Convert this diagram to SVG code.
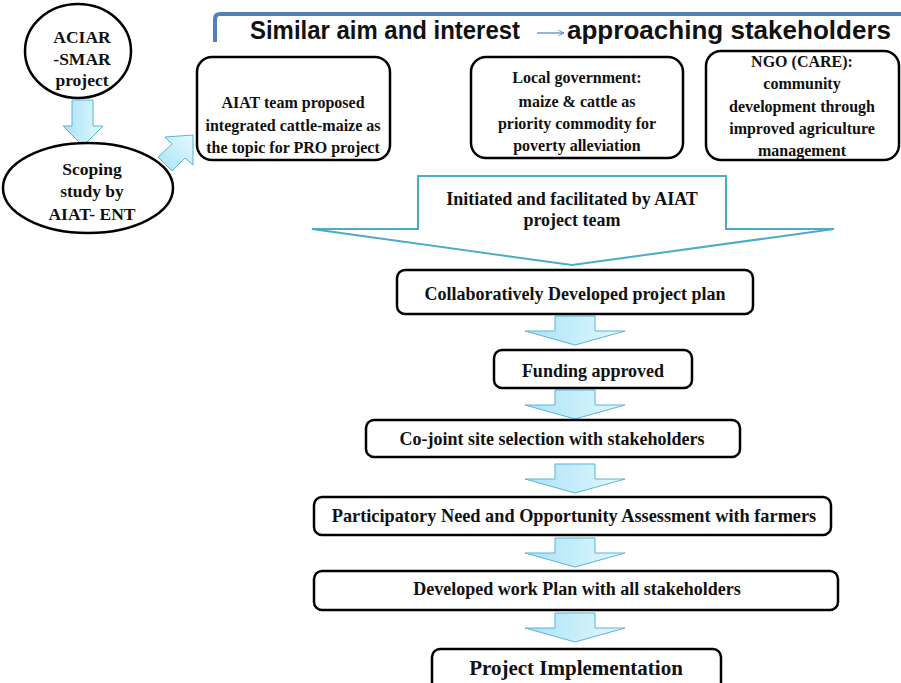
<svg xmlns="http://www.w3.org/2000/svg" width="901" height="683" viewBox="0 0 901 683">
  <style>
    .bx { fill: #ffffff; stroke: #000000; stroke-width: 2.5; }
    .el { fill: #ffffff; stroke: #000000; stroke-width: 2.5; }
    .t { font-family: "Liberation Serif", "Times New Roman", serif; font-weight: bold; fill: #111111; text-anchor: middle; }
    .t16 { font-size: 16px; }
    .t17 { font-size: 17.5px; }
    .t18 { font-size: 18px; }
    .t21 { font-size: 21px; }
    .ban { font-family: "Liberation Sans", Arial, sans-serif; font-weight: bold; font-size: 25px; fill: #111111; }
    .blk { fill: url(#blueFill); stroke: #5ab4d6; stroke-width: 1; }
  </style>
  <defs>
    <linearGradient id="blueFill" x1="0" y1="0" x2="1" y2="0">
      <stop offset="0" stop-color="#a9e2f7"/>
      <stop offset="1" stop-color="#e4f8fe"/>
    </linearGradient>
    <linearGradient id="blueFillD" x1="0" y1="1" x2="1" y2="0">
      <stop offset="0" stop-color="#a9e2f7"/>
      <stop offset="1" stop-color="#e4f8fe"/>
    </linearGradient>
    <path id="stepArrow" d="M-20,0 H20 V15 H50 L0,29 L-50,15 H-20 Z"/>
    <marker id="thinHead" viewBox="0 0 10 10" refX="9" refY="5" markerWidth="7" markerHeight="7" orient="auto" markerUnits="userSpaceOnUse">
      <path d="M1,1 L9,5 L1,9" fill="none" stroke="#4f81bd" stroke-width="1.2"/>
    </marker>
  </defs>

  <!-- banner -->
  <g id="banner">
    <path d="M215,42 V19 Q215,14 220,14 H901" fill="none" stroke="#4f81bd" stroke-width="4"/>
    <text class="ban" x="250" y="39" textLength="270" lengthAdjust="spacingAndGlyphs">Similar aim and interest</text>
    <line x1="537" y1="33" x2="564" y2="33" stroke="#4f81bd" stroke-width="1.2" marker-end="url(#thinHead)"/>
    <text class="ban" x="567" y="39" textLength="324" lengthAdjust="spacingAndGlyphs">approaching stakeholders</text>
  </g>

  <!-- connectors -->
  <g id="connectors">
    <path class="blk" d="M72,100 H93 V126 H103 L83,146 L63,126 H72 Z"/>
    <path class="blk" style="fill:url(#blueFillD)" d="M193,135 L193,165 L185,158 L172,171 L158,157 L172,144 L165,137 Z"/>
    <path id="bigArrow" d="M418,176 H726 V229 H834 L572,265 L312,229 H418 Z" fill="#ffffff" stroke="#4bacc6" stroke-width="2"/>
    <use href="#stepArrow" class="blk" x="575" y="316"/>
    <use href="#stepArrow" class="blk" x="575" y="390"/>
    <use href="#stepArrow" class="blk" x="575" y="464"/>
    <use href="#stepArrow" class="blk" x="575" y="538"/>
    <use href="#stepArrow" class="blk" x="575" y="613"/>
  </g>

  <g id="aciar">
    <ellipse class="el" cx="78" cy="51" rx="53" ry="47"/>
    <text class="t t17" x="82" y="43">ACIAR</text>
    <text class="t t17" x="82" y="65">-SMAR</text>
    <text class="t t17" x="82" y="86">project</text>
  </g>

  <g id="scoping">
    <ellipse class="el" cx="88" cy="188" rx="85" ry="45"/>
    <text class="t t17" x="92" y="175">Scoping</text>
    <text class="t t17" x="92" y="197">study by</text>
    <text class="t t17" x="92" y="220">AIAT- ENT</text>
  </g>

  <g id="aiat-team">
    <rect class="bx" x="197" y="57" width="193" height="103" rx="15"/>
    <text class="t t16" x="293" y="108">AIAT team proposed</text>
    <text class="t t16" x="293" y="131">integrated cattle-maize as</text>
    <text class="t t16" x="293" y="153">the topic for PRO project</text>
  </g>

  <g id="local-gov">
    <rect class="bx" x="471" y="57" width="212" height="101" rx="15"/>
    <text class="t t16" x="577" y="83">Local government:</text>
    <text class="t t16" x="577" y="107">maize &amp; cattle as</text>
    <text class="t t16" x="577" y="129">priority commodity for</text>
    <text class="t t16" x="577" y="151">poverty alleviation</text>
  </g>

  <g id="ngo">
    <rect class="bx" x="706" y="51" width="193" height="109" rx="15"/>
    <text class="t t16" x="802" y="67">NGO (CARE):</text>
    <text class="t t16" x="802" y="89">community</text>
    <text class="t t16" x="802" y="112">development through</text>
    <text class="t t16" x="802" y="134">improved agriculture</text>
    <text class="t t16" x="802" y="156">management</text>
  </g>

  <g id="initiated">
    <text class="t t18" x="572" y="205">Initiated and facilitated by AIAT</text>
    <text class="t t18" x="572" y="226">project team</text>
  </g>

  <g id="plan">
    <rect class="bx" x="397" y="270" width="356" height="44" rx="8"/>
    <text class="t t18" x="575" y="300">Collaboratively Developed project plan</text>
  </g>

  <g id="funding">
    <rect class="bx" x="494" y="350" width="198" height="38" rx="8"/>
    <text class="t t18" x="593" y="377">Funding approved</text>
  </g>

  <g id="site">
    <rect class="bx" x="366" y="420" width="374" height="37" rx="8"/>
    <text class="t t18" x="552" y="445">Co-joint site selection with stakeholders</text>
  </g>

  <g id="assessment">
    <rect class="bx" x="314" y="497" width="517" height="38" rx="8"/>
    <text class="t" style="font-size:18.3px" x="574" y="522">Participatory Need and Opportunity Assessment with farmers</text>
  </g>

  <g id="workplan">
    <rect class="bx" x="314" y="571" width="524" height="39" rx="8"/>
    <text class="t t18" x="577" y="595">Developed work Plan with all stakeholders</text>
  </g>

  <g id="implementation">
    <rect class="bx" x="432" y="649" width="289" height="44" rx="8"/>
    <text class="t t21" x="576" y="675">Project Implementation</text>
  </g>
</svg>
